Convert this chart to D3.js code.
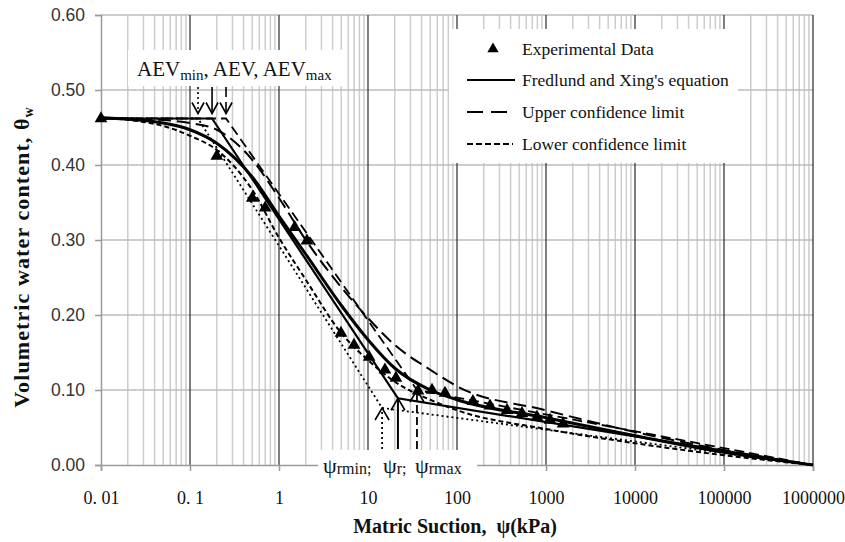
<!DOCTYPE html>
<html><head><meta charset="utf-8">
<script src="https://cdn.jsdelivr.net/npm/d3@7"></script>
<style>body{margin:0;background:#fff} svg{display:block}</style>
</head><body><svg id="c" width="845" height="542"></svg>
<script>
// ---- data ----
const expSuction = [0.01, 0.2, 0.5, 0.7, 1.5, 2.06, 4.97, 6.96, 10.3, 15.5, 20.6, 36.5, 52.4, 73.3, 151, 235, 365, 537, 792, 1109, 1553];
const expTheta   = [0.462, 0.412, 0.356, 0.343, 0.317, 0.299, 0.176, 0.160, 0.144, 0.127, 0.116, 0.099, 0.100, 0.096, 0.085, 0.079, 0.073, 0.069, 0.064, 0.060, 0.055];

const curveSuction = [0.01, 0.05, 0.1, 0.2, 0.5, 1, 2, 5, 10, 20, 50, 100, 1000, 10000, 100000, 1000000];
const fxTheta      = [0.463, 0.456, 0.447, 0.429, 0.384, 0.332, 0.281, 0.213, 0.167, 0.129, 0.100, 0.087, 0.063, 0.039, 0.017, 0.000];
const upperTheta   = [0.463, 0.460, 0.456, 0.447, 0.407, 0.356, 0.300, 0.237, 0.196, 0.160, 0.127, 0.105, 0.073, 0.044, 0.020, 0.000];
const lowerTheta   = [0.463, 0.452, 0.439, 0.420, 0.367, 0.303, 0.247, 0.176, 0.140, 0.111, 0.087, 0.073, 0.048, 0.029, 0.013, 0.000];

// graphical construction lines (AEV and residual suction)
const thetaS = 0.462;
const aevValues = [0.123, 0.177, 0.254];          // AEVmin, AEV, AEVmax
const psiRValues = [14.4, 21.7, 35.5];           // psi_rmin, psi_r, psi_rmax
const psiRTheta  = [0.076, 0.089, 0.100];
const endSuction = 1000000;

const xTickValues = [0.01, 0.1, 1, 10, 100, 1000, 10000, 100000, 1000000];
const xTickLabels = ["0. 01", "0. 1", "1", "10", "100", "1000", "10000", "100000", "1000000"];
const yTickValues = [0, 0.1, 0.2, 0.3, 0.4, 0.5, 0.6];

const legendLabels = ["Experimental Data", "Fredlund and Xing's equation", "Upper confidence limit", "Lower confidence limit"];
const psiLabelSubs = ["rmin", "r", "rmax"];
const psiLabelSeps = [";", ";", ""];

// ---- drawing ----
const svg = d3.select("#c");
const x = d3.scaleLog().domain([0.01, 1e6]).range([101, 813]);
const y = d3.scaleLinear().domain([0, 0.6]).range([465, 15]);
const serif = "'Liberation Serif','Times New Roman',serif";
const sans = "'Liberation Sans',Arial,sans-serif";

const isDecade = v => Math.abs(Math.log10(v) - Math.round(Math.log10(v))) < 1e-9;
const minor = x.ticks().filter(v => !isDecade(v));

const grid = svg.append("g");
grid.selectAll("line.mn").data(minor).join("line")
  .attr("x1", d => x(d)).attr("x2", d => x(d)).attr("y1", y(0.6)).attr("y2", y(0))
  .attr("stroke", "#cdcdcd").attr("stroke-width", 1.5);
grid.selectAll("line.h").data(yTickValues.filter(v => v > 0)).join("line")
  .attr("x1", x(0.01)).attr("x2", x(1e6)).attr("y1", d => y(d)).attr("y2", d => y(d))
  .attr("stroke", "#bcbcbc").attr("stroke-width", 1.5);
grid.selectAll("line.mj").data(xTickValues.slice(1)).join("line")
  .attr("x1", d => x(d)).attr("x2", d => x(d)).attr("y1", y(0.6)).attr("y2", y(0))
  .attr("stroke", "#3a3a3a").attr("stroke-width", 1.3);

// axes
const yAxis = d3.axisLeft(y).tickValues(yTickValues).tickFormat(d3.format(".2f")).tickSize(6).tickPadding(10);
const ya = svg.append("g").attr("transform", `translate(${x(0.01)},0)`).call(yAxis);
ya.select(".domain").attr("stroke", "#9a9a9a").attr("stroke-width", 1.5);
ya.selectAll(".tick line").attr("stroke", "#9a9a9a").attr("stroke-width", 1.5);
ya.selectAll("text").attr("font-family", sans).attr("font-size", 17.5).attr("fill", "#333");

const xAxis = d3.axisBottom(x).tickValues(xTickValues).tickFormat((d, i) => xTickLabels[i]).tickSize(6).tickPadding(20);
const xa = svg.append("g").attr("transform", `translate(0,${y(0)})`).call(xAxis);
xa.select(".domain").attr("stroke", "#9a9a9a").attr("stroke-width", 1.5);
xa.selectAll(".tick line").attr("stroke", "#9a9a9a").attr("stroke-width", 1.5);
xa.selectAll("text").attr("font-family", serif).attr("font-size", 18).attr("fill", "#111");

// white boxes behind annotations and legend
svg.append("rect").attr("x", 449).attr("y", 29).attr("width", 289).attr("height", 134).attr("fill", "#fff");
svg.append("rect").attr("x", 128).attr("y", 50).attr("width", 219).attr("height", 36).attr("fill", "#fff");
svg.append("rect").attr("x", 318).attr("y", 450).attr("width", 159).attr("height", 32).attr("fill", "#fff");

const lineGen = d3.line().x(d => x(d[0])).y(d => y(d[1])).curve(d3.curveMonotoneX);
const straight = d3.line().x(d => x(d[0])).y(d => y(d[1]));

// construction lines
const styles = [
  { dash: "2,3", w: 1.8 },   // min (dotted)
  { dash: null, w: 2.2 },    // main (solid)
  { dash: "10,5", w: 1.8 }   // max (dashed)
];
const cons = svg.append("g").attr("fill", "none").attr("stroke", "#000");
aevValues.forEach((a, i) => {
  const pts = [[0.01, thetaS], [a, thetaS], [psiRValues[i], psiRTheta[i]], [endSuction, 0]];
  cons.append("path").attr("d", straight(pts)).attr("stroke-width", styles[i].w)
    .attr("stroke-dasharray", styles[i].dash);
  // top arrows (pointing down to AEV)
  const ax = x(a), tipY = y(thetaS) - 5;
  cons.append("line").attr("x1", ax).attr("x2", ax).attr("y1", 87).attr("y2", tipY)
    .attr("stroke-width", 1.6).attr("stroke-dasharray", styles[i].dash);
  cons.append("path").attr("d", `M${ax - 6},${tipY - 11}L${ax},${tipY}L${ax + 6},${tipY - 11}`)
    .attr("stroke-width", 1.6);
  // bottom arrows (pointing up to psi_r)
  const bx = x(psiRValues[i]), bTip = y(psiRTheta[i]);
  cons.append("line").attr("x1", bx).attr("x2", bx).attr("y1", 449).attr("y2", bTip)
    .attr("stroke-width", i === 1 ? 2 : 1.8).attr("stroke-dasharray", i === 2 ? "8,4" : styles[i].dash);
  cons.append("path").attr("d", `M${bx - 7},${bTip + 12}L${bx},${bTip}L${bx + 7},${bTip + 12}`)
    .attr("stroke-width", 1.6);
});

// curves
const curves = svg.append("g").attr("fill", "none").attr("stroke", "#000");
curves.append("path").attr("d", lineGen(curveSuction.map((s, i) => [s, upperTheta[i]])))
  .attr("stroke-width", 2).attr("stroke-dasharray", "13,6");
curves.append("path").attr("d", lineGen(curveSuction.map((s, i) => [s, lowerTheta[i]])))
  .attr("stroke-width", 2).attr("stroke-dasharray", "5,3");
curves.append("path").attr("d", lineGen(curveSuction.map((s, i) => [s, fxTheta[i]])))
  .attr("stroke-width", 3);

// experimental data
const tri = d3.symbol().type(d3.symbolTriangle).size(70);
svg.append("g").selectAll("path").data(expSuction.map((s, i) => [s, expTheta[i]])).join("path")
  .attr("d", tri).attr("transform", d => `translate(${x(d[0])},${y(d[1])})`).attr("fill", "#000");

// legend
const lg = svg.append("g");
lg.append("path").attr("d", d3.symbol().type(d3.symbolTriangle).size(55)).attr("transform", "translate(493,49)").attr("fill", "#000");
lg.append("line").attr("x1", 467).attr("x2", 515).attr("y1", 80).attr("y2", 80).attr("stroke", "#000").attr("stroke-width", 2.2);
lg.append("line").attr("x1", 467).attr("x2", 513).attr("y1", 112).attr("y2", 112).attr("stroke", "#000").attr("stroke-width", 2.2).attr("stroke-dasharray", "16,8");
lg.append("line").attr("x1", 467).attr("x2", 513).attr("y1", 144).attr("y2", 144).attr("stroke", "#000").attr("stroke-width", 2.2).attr("stroke-dasharray", "6,3");
lg.selectAll("text").data(legendLabels).join("text")
  .attr("x", 522).attr("y", (d, i) => [55, 86, 118, 150][i])
  .attr("font-family", serif).attr("font-size", 17.5).attr("fill", "#111").text(d => d);

// AEV annotation
const aevT = svg.append("text").attr("x", 137).attr("y", 76).attr("font-family", serif).attr("font-size", 21).attr("fill", "#111");
aevT.append("tspan").text("AEV");
aevT.append("tspan").attr("font-size", 15).attr("dy", 4).text("min");
aevT.append("tspan").attr("dy", -4).text(", AEV, AEV");
aevT.append("tspan").attr("font-size", 15).attr("dy", 4).text("max");

// psi_r annotation
const psiStarts = [323, 383, 415];
psiLabelSubs.forEach((s, i) => {
  const t = svg.append("text").attr("x", psiStarts[i]).attr("y", 473).attr("font-family", serif).attr("font-size", 22).attr("fill", "#111");
  t.append("tspan").text("ψ");
  t.append("tspan").attr("font-size", 16).attr("dy", 1).text(s);
  t.append("tspan").attr("font-size", 16).text(psiLabelSeps[i]);
});

// axis titles
svg.append("text").attr("x", 455).attr("y", 533).attr("text-anchor", "middle")
  .attr("font-family", serif).attr("font-weight", "bold").attr("font-size", 20).attr("fill", "#111")
  .attr("xml:space", "preserve").style("white-space", "pre")
  .text("Matric Suction,  ψ(kPa)");
const yt = svg.append("text").attr("transform", "translate(29,257) rotate(-90)").attr("text-anchor", "middle")
  .attr("font-family", serif).attr("font-weight", "bold").attr("font-size", 22).attr("letter-spacing", 1.1).attr("fill", "#111");
yt.append("tspan").text("Volumetric water content, θ");
yt.append("tspan").attr("font-size", 14).attr("dy", 4).text("w");
</script></body></html>
